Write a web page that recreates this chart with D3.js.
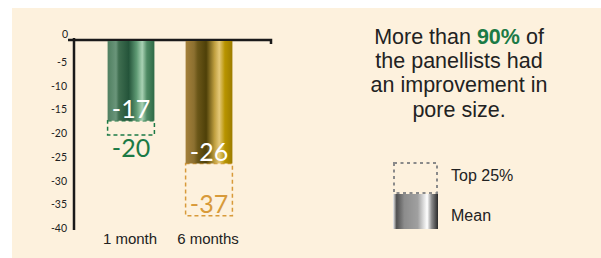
<!DOCTYPE html>
<meta charset="utf-8">
<title>Pore size</title>
<style>
  body { margin: 0; background: #fff; }
  svg { display: block; }
</style>
<svg width="601" height="258"></svg>
<script src="https://cdn.jsdelivr.net/npm/d3@7"></script>
<script>

// data
var periods = ["1 month", "6 months"];
var meanVals = [-17, -26];
var topVals = [-20, -37];
var yTicks = [0, -5, -10, -15, -20, -25, -30, -35, -40];
var barColors = ["#1b7a45", "#d89a3a"];
var headline = ["More than |90%| of", "the panellists had", "an improvement in", "pore size."];
var legendLabels = ["Top 25%", "Mean"];

var svg = d3.select("svg");

svg.append("rect")
    .attr("x", 12).attr("y", 8)
    .attr("width", 601 - 12).attr("height", 258 - 8)
    .attr("fill", "#fdf1dd");

var defs = svg.append("defs");
function metalGrad(id, stops) {
  var g = defs.append("linearGradient").attr("id", id)
      .attr("x1", "0%").attr("x2", "100%").attr("y1", "0%").attr("y2", "0%");
  g.selectAll("stop").data(stops).enter().append("stop")
      .attr("offset", function(d) { return d[0]; })
      .attr("stop-color", function(d) { return d[1]; });
}
metalGrad("g-green", [["0%", "#4f7f60"], ["18%", "#6a957a"], ["24%", "#3f6e50"], ["45%", "#24543a"], ["62%", "#5e9a74"], ["74%", "#a9d2b4"], ["84%", "#4f8a64"], ["100%", "#2e6a46"]]);
metalGrad("g-gold", [["0%", "#a4803a"], ["18%", "#8c7030"], ["26%", "#6a5618"], ["44%", "#4e4008"], ["62%", "#c0a040"], ["72%", "#e4c878"], ["84%", "#b89400"], ["100%", "#9c7c00"]]);
metalGrad("g-grey", [["0%", "#f4f4f4"], ["8%", "#505050"], ["25%", "#8c8c8c"], ["55%", "#a0a0a0"], ["68%", "#dcdcdc"], ["76%", "#ffffff"], ["86%", "#8a8a8a"], ["100%", "#2a2a2a"]]);

var x = d3.scaleBand().domain(periods).range([92, 248]).paddingInner(0.4).paddingOuter(0.2);
var y = d3.scaleLinear().domain([0, -40]).range([40, 230]);

// axes
svg.append("line").attr("x1", 74).attr("x2", 74).attr("y1", 38).attr("y2", y(-40))
    .attr("stroke", "#1a1a1a").attr("stroke-width", 2.5);
svg.append("path").attr("d", "M68,40H271V44")
    .attr("stroke", "#1a1a1a").attr("stroke-width", 2.5).attr("fill", "none");

svg.selectAll(".ytick").data(yTicks).enter().append("text")
    .attr("x", function(d) { return d === 0 ? 68 : 67; })
    .attr("y", function(d) { return d === 0 ? 38 : y(d) + 2; })
    .attr("text-anchor", "end")
    .attr("font-family", "Lato, 'DejaVu Sans', sans-serif")
    .attr("font-size", 10.5)
    .attr("fill", "#222")
    .text(function(d) { return d; });

// top 25% dashed boxes
svg.selectAll(".top").data(topVals).enter().append("rect")
    .attr("x", function(d, i) { return x(periods[i]); })
    .attr("y", function(d, i) { return y(meanVals[i]); })
    .attr("width", x.bandwidth())
    .attr("height", function(d, i) { return y(d) - y(meanVals[i]); })
    .attr("fill", "none")
    .attr("stroke", function(d, i) { return barColors[i]; })
    .attr("stroke-width", 1.5)
    .attr("stroke-dasharray", "4,3");

// mean bars
svg.selectAll(".bar").data(meanVals).enter().append("rect")
    .attr("x", function(d, i) { return x(periods[i]); })
    .attr("y", y(0) + 1)
    .attr("width", x.bandwidth())
    .attr("height", function(d) { return y(d) - y(0) - 1; })
    .attr("fill", function(d, i) { return i === 0 ? "url(#g-green)" : "url(#g-gold)"; });

svg.selectAll(".meanlbl").data(meanVals).enter().append("text")
    .attr("x", function(d, i) { return x(periods[i]) + x.bandwidth() / 2; })
    .attr("y", function(d) { return y(d) - 3; })
    .attr("text-anchor", "middle")
    .attr("font-family", "Lato, sans-serif")
    .attr("font-size", 25)
    .attr("fill", "#fff")
    .text(function(d) { return d; });

svg.selectAll(".toplbl").data(topVals).enter().append("text")
    .attr("x", function(d, i) { return x(periods[i]) + x.bandwidth() / 2; })
    .attr("y", function(d, i) { return i === 0 ? y(d) + 22 : y(d) - 3; })
    .attr("text-anchor", "middle")
    .attr("font-family", "Lato, sans-serif")
    .attr("font-size", 25)
    .attr("fill", function(d, i) { return barColors[i]; })
    .text(function(d) { return d; });

svg.selectAll(".xlbl").data(periods).enter().append("text")
    .attr("x", function(d) { return x(d) + x.bandwidth() / 2 - 1; })
    .attr("y", 244)
    .attr("text-anchor", "middle")
    .attr("font-family", "Arial, 'Liberation Sans', sans-serif")
    .attr("font-size", 15)
    .attr("fill", "#222")
    .text(function(d) { return d; });

// headline text
var head = svg.append("g").attr("font-family", "Arial, 'Liberation Sans', sans-serif")
    .attr("font-size", 21.5).attr("fill", "#222").attr("text-anchor", "middle");
headline.forEach(function(line, i) {
  var t = head.append("text").attr("x", 459).attr("y", 44 + i * 24.2);
  line.split("|").forEach(function(part, j) {
    var s = t.append("tspan").text(part);
    if (j === 1) s.attr("font-weight", "bold").attr("fill", "#1b7a45");
  });
});

// legend
svg.append("rect").attr("x", 394).attr("y", 163).attr("width", 43).attr("height", 30)
    .attr("fill", "none").attr("stroke", "#8a8a8a").attr("stroke-width", 2)
    .attr("stroke-dasharray", "3,3.5");
svg.append("rect").attr("x", 393).attr("y", 194).attr("width", 45).attr("height", 35)
    .attr("fill", "url(#g-grey)");
svg.selectAll(".leg").data(legendLabels).enter().append("text")
    .attr("x", 451)
    .attr("y", function(d, i) { return 181 + i * 40; })
    .attr("font-family", "Arial, 'Liberation Sans', sans-serif")
    .attr("font-size", 16)
    .attr("fill", "#222")
    .text(function(d) { return d; });

</script>
